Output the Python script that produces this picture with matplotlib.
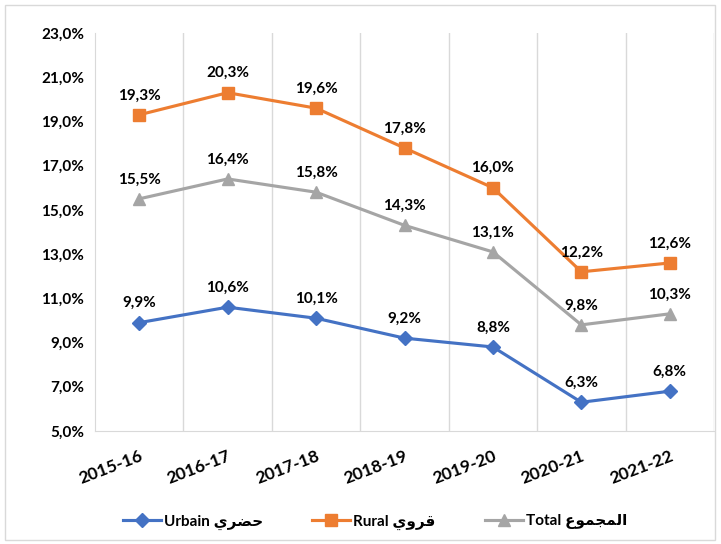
import matplotlib
matplotlib.use("Agg")
import matplotlib.pyplot as plt
from matplotlib.patches import Rectangle
from matplotlib.lines import Line2D

categories = ["2015-16", "2016-17", "2017-18", "2018-19", "2019-20", "2020-21", "2021-22"]
urbain = [9.9, 10.6, 10.1, 9.2, 8.8, 6.3, 6.8]
rural = [19.3, 20.3, 19.6, 17.8, 16.0, 12.2, 12.6]
total = [15.5, 16.4, 15.8, 14.3, 13.1, 9.8, 10.3]
yticks = [5, 7, 9, 11, 13, 15, 17, 19, 21, 23]

# Arabic in visual order with presentation forms (matplotlib does no shaping)
ar_urbain = "\uFEF1\uFEAE\uFEC0\uFEA3"          # حضري
ar_rural = "\uFEF1\uFEED\uFEAE\uFED7"           # قروي
ar_total = "\uFEC9\uFEEE\uFEE4\uFEA0\uFEE4\uFEDF\uFE8D"  # المجموع

FAM = ["Lato", "DejaVu Sans"]
plt.rcParams['font.family'] = FAM

fig = plt.figure(figsize=(7.21, 5.44), dpi=100)
fig.patches.append(Rectangle((5/721, 4/544), 710/721, 535/544, transform=fig.transFigure,
                             fill=False, edgecolor="#D9D9D9", linewidth=1))
ax = fig.add_axes([95/721, 1-431/544, (714-95)/721, (431-33)/544])

x = list(range(len(categories)))
series = [
    (urbain, "#4472C4", "D", 7, "Urbain " + ar_urbain),
    (rural, "#ED7D31", "s", 9, "Rural " + ar_rural),
    (total, "#A5A5A5", "^", 9, "Total " + ar_total),
]
handles = []
for vals, col, mk, ms, lab in series:
    ax.plot(x, vals, color=col, marker=mk, markersize=ms, linewidth=2.25,
            markeredgecolor=col, zorder=3)
    handles.append(Line2D([0], [0], color=col, marker=mk, markersize=ms, linewidth=2.25, label=lab))
    for xi, v in zip(x, vals):
        ax.annotate(f"{v:.1f}%".replace(".", ","), (xi, v), xytext=(0, 9),
                    textcoords="offset points", ha="center", va="bottom",
                    fontsize=11, fontweight="bold", color="#000000")

ax.set_xlim(-0.5, len(categories) - 0.5)
ax.set_ylim(5, 23)
ax.set_yticks(yticks)
ax.set_yticklabels([f"{t:.1f}%".replace(".", ",") for t in yticks],
                   fontsize=11, fontweight="bold")
ax.set_xticks(x)
ax.set_xticklabels(categories, rotation=21, ha="right", rotation_mode="anchor",
                   fontsize=12.5, fontweight="bold")
ax.tick_params(axis="both", length=0, pad=8)
ax.tick_params(axis="x", pad=12)
for xb in [i + 0.5 for i in range(len(categories))]:
    ax.axvline(xb, color="#D9D9D9", linewidth=1, zorder=0)
for s in ["top", "right"]:
    ax.spines[s].set_visible(False)
for s in ["left", "bottom"]:
    ax.spines[s].set_color("#D9D9D9")

fig.legend(handles=handles, loc="center", bbox_to_anchor=(0.52, 1-522/544), ncol=3,
           frameon=False, prop={"family": FAM, "weight": "bold", "size": 11},
           handlelength=2.5, columnspacing=3.2, handletextpad=0.2)

fig.savefig("out.png", dpi=100)
